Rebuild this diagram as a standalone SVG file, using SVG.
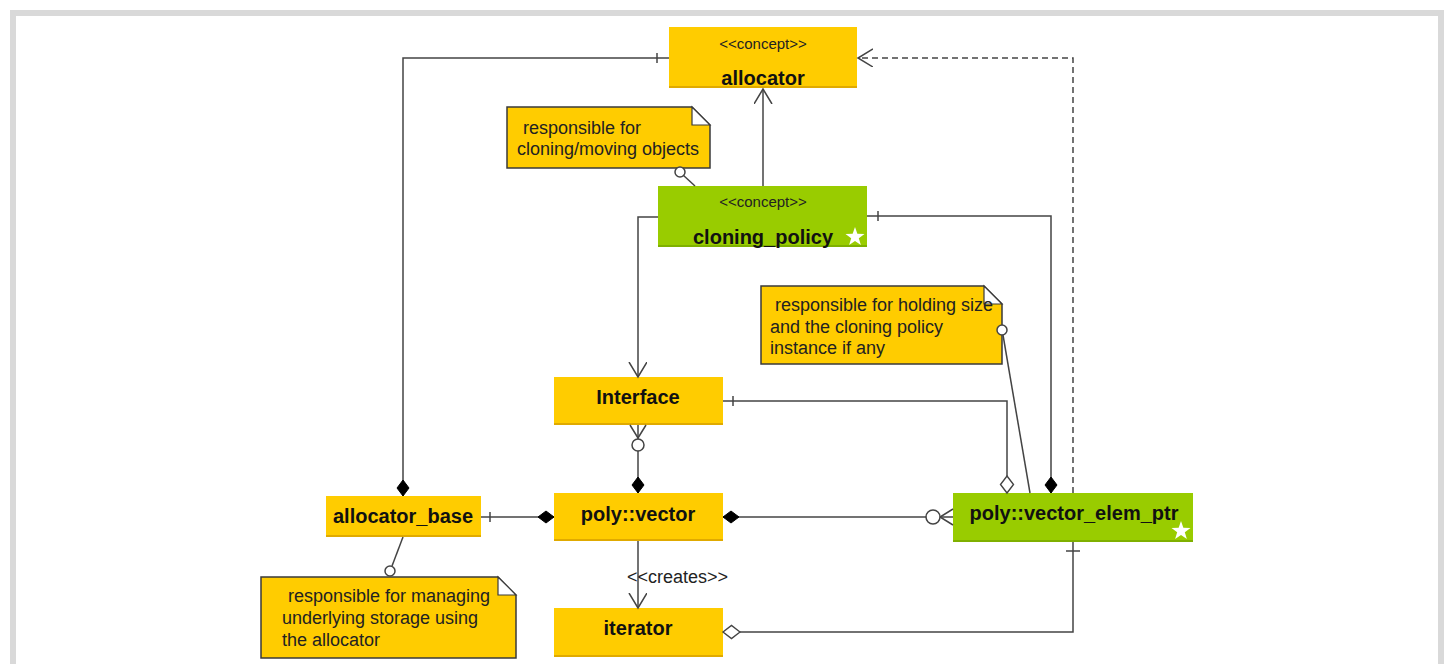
<svg xmlns="http://www.w3.org/2000/svg" width="1450" height="664" viewBox="0 0 1450 664">
  <style>
    .frame { fill: none; stroke: #d9d9d9; stroke-width: 6; }
    .cls { fill: #ffcc00; }
    .cls-g { fill: #99cc00; }
    .edge { fill: #e0aa00; }
    .edge-g { fill: #7fb000; }
    .name { font-family: "Liberation Sans", Arial, sans-serif; font-size: 20px; font-weight: bold; fill: #111; text-anchor: middle; }
    .stereo { font-family: "Liberation Sans", Arial, sans-serif; font-size: 15px; fill: #222; text-anchor: middle; }
    .note { fill: #ffcc00; stroke: #3a3a3a; stroke-width: 1.5; }
    .fold { fill: #ffffff; stroke: #3a3a3a; stroke-width: 1.2; }
    .ntext { font-family: "Liberation Sans", Arial, sans-serif; font-size: 18px; fill: #222; }
    .conn { fill: none; stroke: #444; stroke-width: 1.5; }
    .dash { stroke-dasharray: 6 4; }
    .ring { fill: #ffffff; stroke: #444; stroke-width: 1.5; }
    .lbl { font-family: "Liberation Sans", Arial, sans-serif; font-size: 18px; fill: #222; }
    .star { fill: #ffffff; }
  </style>
  <defs>
    <marker id="dFill" markerUnits="userSpaceOnUse" markerWidth="20" markerHeight="16" refX="17" refY="7" orient="auto">
      <path d="M1,7 L9,1 L17,7 L9,13 Z" fill="#000" stroke="#000" stroke-width="1"/>
    </marker>
    <marker id="dHollow" markerUnits="userSpaceOnUse" markerWidth="20" markerHeight="16" refX="18" refY="7.5" orient="auto">
      <path d="M1,7.5 L9.5,1 L18,7.5 L9.5,14 Z" fill="#fff" stroke="#444" stroke-width="1.4"/>
    </marker>
    <marker id="open" markerUnits="userSpaceOnUse" markerWidth="18" markerHeight="20" refX="15" refY="9" orient="auto">
      <path d="M0,0 L15,9 L0,18" fill="none" stroke="#444" stroke-width="1.5"/>
    </marker>
    <path id="starShape" d="M0,-10 L2.35,-3.2 L9.5,-3.1 L3.8,1.2 L5.9,8.1 L0,4 L-5.9,8.1 L-3.8,1.2 L-9.5,-3.1 L-2.35,-3.2 Z"/>
  </defs>

  <rect x="13" y="13" width="1428" height="660" class="frame"/>

  <g id="allocator">
    <rect class="cls" x="669" y="27" width="188" height="61"/>
    <rect class="edge" x="669" y="86" width="188" height="2"/>
    <text class="stereo" x="763" y="49">&lt;&lt;concept&gt;&gt;</text>
    <text class="name" x="763" y="85">allocator</text>
  </g>

  <g id="note-cloning">
    <path class="note" d="M507,107 H692 L710,125 V168 H507 Z"/>
    <path class="fold" d="M692,107 V125 H710 Z"/>
    <text class="ntext" x="523" y="134">responsible for</text>
    <text class="ntext" x="517" y="155">cloning/moving objects</text>
  </g>

  <g id="cloning_policy">
    <rect class="cls-g" x="658" y="186" width="209" height="61"/>
    <rect class="edge-g" x="658" y="245" width="209" height="2"/>
    <text class="stereo" x="763" y="207">&lt;&lt;concept&gt;&gt;</text>
    <text class="name" x="763" y="244">cloning_policy</text>
    <use href="#starShape" class="star" x="855" y="237"/>
  </g>

  <g id="note-elem">
    <path class="note" d="M761,286 H984 L1002,304 V364 H761 Z"/>
    <path class="fold" d="M984,286 V304 H1002 Z"/>
    <text class="ntext" x="775" y="311">responsible for holding size</text>
    <text class="ntext" x="770" y="333">and the cloning policy</text>
    <text class="ntext" x="770" y="354">instance if any</text>
  </g>

  <g id="Interface">
    <rect class="cls" x="554" y="377" width="169" height="48"/>
    <rect class="edge" x="554" y="423" width="169" height="2"/>
    <text class="name" x="638" y="404">Interface</text>
  </g>

  <g id="allocator_base">
    <rect class="cls" x="326" y="496" width="155" height="41"/>
    <rect class="edge" x="326" y="535" width="155" height="2"/>
    <text class="name" x="403" y="523">allocator_base</text>
  </g>

  <g id="poly_vector">
    <rect class="cls" x="554" y="493" width="169" height="48"/>
    <rect class="edge" x="554" y="539" width="169" height="2"/>
    <text class="name" x="638" y="521">poly::vector</text>
  </g>

  <g id="poly_vector_elem_ptr">
    <rect class="cls-g" x="953" y="493" width="240" height="49"/>
    <rect class="edge-g" x="953" y="540" width="240" height="2"/>
    <text class="name" x="1074" y="520">poly::vector_elem_ptr</text>
    <use href="#starShape" class="star" x="1181" y="531"/>
  </g>

  <g id="iterator">
    <rect class="cls" x="554" y="608" width="169" height="49"/>
    <rect class="edge" x="554" y="655" width="169" height="2"/>
    <text class="name" x="638" y="635">iterator</text>
  </g>

  <g id="note-storage">
    <path class="note" d="M261,577 H498 L516,595 V658 H261 Z"/>
    <path class="fold" d="M498,577 V595 H516 Z"/>
    <text class="ntext" x="288" y="602">responsible for managing</text>
    <text class="ntext" x="282" y="624">underlying storage using</text>
    <text class="ntext" x="282" y="646">the allocator</text>
  </g>

  <!-- connectors, drawn over the boxes so note anchors stay visible -->
  <g id="connectors">
    <!-- allocator_base -> allocator -->
    <path class="conn" d="M669,58 H403 V496" marker-end="url(#dFill)"/>
    <line class="conn" x1="657" y1="53" x2="657" y2="63"/>
    <!-- cloning_policy refines allocator -->
    <path class="conn" d="M763,186 V89" marker-end="url(#open)"/>
    <!-- note anchor: cloning_policy -->
    <line class="conn" x1="695" y1="186" x2="683" y2="175"/>
    <circle class="ring" cx="680" cy="172" r="5"/>
    <!-- cloning_policy -> Interface -->
    <path class="conn" d="M658,217 H638 V377" marker-end="url(#open)"/>
    <!-- cloning_policy -> vector_elem_ptr -->
    <path class="conn" d="M867,216 H1051 V493" marker-end="url(#dFill)"/>
    <line class="conn" x1="878" y1="211" x2="878" y2="221"/>
    <!-- Interface -> vector_elem_ptr -->
    <path class="conn" d="M723,401 H1007 V493" marker-end="url(#dHollow)"/>
    <line class="conn" x1="733" y1="396" x2="733" y2="406"/>
    <!-- note anchor: vector_elem_ptr -->
    <line class="conn" x1="1030" y1="493" x2="1003" y2="335"/>
    <circle class="ring" cx="1002" cy="330" r="5"/>
    <!-- vector_elem_ptr uses allocator -->
    <path class="conn dash" d="M1073,493 V58 H858" marker-end="url(#open)"/>
    <!-- Interface -> poly::vector -->
    <path class="conn" d="M638,425 V493" marker-end="url(#dFill)"/>
    <path class="conn" d="M630,425 L638,438 L646,425"/>
    <circle class="ring" cx="638" cy="445" r="6"/>
    <!-- allocator_base -> poly::vector -->
    <path class="conn" d="M481,517 H554" marker-end="url(#dFill)"/>
    <line class="conn" x1="490" y1="512" x2="490" y2="522"/>
    <!-- vector_elem_ptr -> poly::vector -->
    <path class="conn" d="M953,517 H723" marker-end="url(#dFill)"/>
    <path class="conn" d="M953,509 L940,517 L953,525"/>
    <circle class="ring" cx="933" cy="517" r="7"/>
    <!-- poly::vector creates iterator -->
    <path class="conn" d="M638,541 V608" marker-end="url(#open)"/>
    <text class="lbl" x="627" y="583">&lt;&lt;creates&gt;&gt;</text>
    <!-- note anchor: allocator_base -->
    <line class="conn" x1="403" y1="537" x2="392" y2="566"/>
    <circle class="ring" cx="390" cy="571" r="5"/>
    <!-- vector_elem_ptr -> iterator -->
    <path class="conn" d="M1073,542 V632 H723" marker-end="url(#dHollow)"/>
    <line class="conn" x1="1066" y1="551" x2="1080" y2="551"/>
  </g>
</svg>
